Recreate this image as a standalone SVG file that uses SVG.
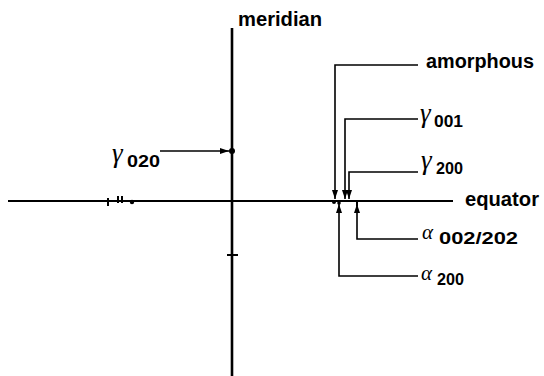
<svg xmlns="http://www.w3.org/2000/svg" width="544" height="376" viewBox="0 0 544 376">
<style>
.lbl{font-family:"Liberation Sans",Arial,sans-serif;font-weight:bold;font-size:20px;fill:#000}
.sub{font-family:"Liberation Sans",Arial,sans-serif;font-weight:bold;font-size:16px;fill:#000}
.gk{font-family:"Liberation Serif","Times New Roman",serif;font-style:italic;font-size:27px;fill:#000}
.ak{font-family:"Liberation Serif","Times New Roman",serif;font-style:italic;font-size:21px;fill:#000}
.axis{stroke:#000;fill:none}
.con{stroke:#000;stroke-width:1.6;fill:none}
</style>
<defs>
<marker id="ah" viewBox="0 0 9 6" refX="9" refY="3" markerWidth="9" markerHeight="6" markerUnits="userSpaceOnUse" orient="auto">
<path d="M0,0 L9,3 L0,6 Z" fill="#000"/>
</marker>
</defs>
<rect width="544" height="376" fill="#fff"/>
<g id="axes">
<line class="axis" x1="232" y1="28" x2="232" y2="376" stroke-width="2.6"/>
<line class="axis" x1="8" y1="201" x2="453" y2="201" stroke-width="2"/>
<g stroke="#000" stroke-width="2">
<line x1="108" y1="198" x2="108" y2="206"/>
<line x1="118" y1="196" x2="118" y2="203"/>
<line x1="122" y1="196" x2="122" y2="203"/>
<line x1="227" y1="255" x2="238" y2="255"/>
<line x1="357" y1="201" x2="357" y2="206"/>
</g>
<circle cx="132" cy="202" r="2.2"/>
<circle cx="232" cy="151" r="3"/>
<circle cx="334" cy="202" r="2"/>
<circle cx="339" cy="203" r="1.8"/>
</g>
<g id="meridian"><text class="lbl" x="238" y="26" textLength="84" lengthAdjust="spacingAndGlyphs">meridian</text></g>
<g id="equator"><text class="lbl" x="465" y="206" textLength="74" lengthAdjust="spacingAndGlyphs">equator</text></g>
<g id="amorphous"><text class="lbl" x="426" y="68" textLength="108" lengthAdjust="spacingAndGlyphs">amorphous</text></g>
<g id="g020"><text class="gk" x="112" y="162">γ</text><text class="sub" x="127" y="167" textLength="33" lengthAdjust="spacingAndGlyphs">020</text></g>
<g id="g001"><text class="gk" x="420" y="122">γ</text><text class="sub" x="434" y="127" textLength="29" lengthAdjust="spacingAndGlyphs">001</text></g>
<g id="g200"><text class="gk" x="421" y="169">γ</text><text class="sub" x="436" y="174" textLength="27" lengthAdjust="spacingAndGlyphs">200</text></g>
<g id="a002"><text class="ak" x="422" y="239">α</text><text class="sub" x="439" y="244" textLength="79" lengthAdjust="spacingAndGlyphs">002/202</text></g>
<g id="a200"><text class="ak" x="421" y="280">α</text><text class="sub" x="437" y="285" textLength="27" lengthAdjust="spacingAndGlyphs">200</text></g>
<g id="connectors">
<polyline class="con" points="418,65 335,65 335,199" marker-end="url(#ah)"/>
<polyline class="con" points="418,119 345,119 345,199" marker-end="url(#ah)"/>
<polyline class="con" points="418,172 349,172 349,199" marker-end="url(#ah)"/>
<polyline class="con" points="418,239 357,239 357,204" marker-end="url(#ah)"/>
<polyline class="con" points="418,276 339,276 339,204" marker-end="url(#ah)"/>
<line class="con" x1="160" y1="151" x2="229" y2="151" marker-end="url(#ah)"/>
</g>
</svg>
